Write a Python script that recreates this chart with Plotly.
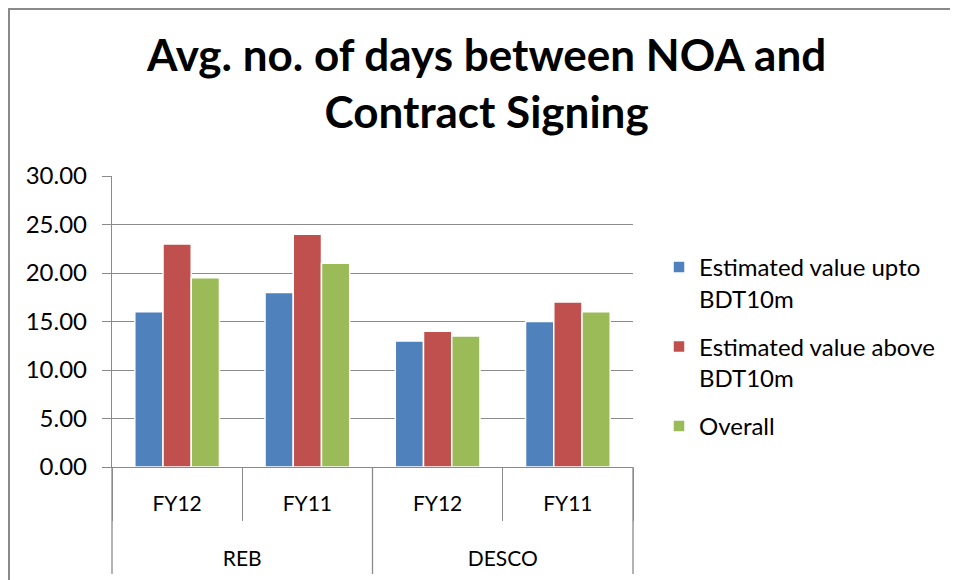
import plotly.graph_objects as go

companies = ["REB", "REB", "DESCO", "DESCO"]
years = ["FY12", "FY11", "FY12", "FY11"]
upto_10m = [16, 18, 13, 15]
above_10m = [23, 24, 14, 17]
overall = [19.5, 21, 13.5, 16]
series_names = ["Estimated value upto<br>BDT10m", "Estimated value above<br>BDT10m", "Overall"]
colors = ["#4F81BD", "#C0504D", "#9BBB59"]
y_ticks = [0, 5, 10, 15, 20, 25, 30]
title_text = "Avg. no. of days between NOA and<br>Contract Signing"

# the page body has an 8px margin, so the figure is laid out 8px in from the window
W, H = 950, 572
L, R, T, B = 104, 325, 168, 113
PW, PH = W - L - R, H - T - B


def px(fx):
    return (fx - L) / PW


def py(fy):
    return (H - B - fy) / PH


label_span = "<span style='font-size:21px'>{}</span>"
outer_labels = ["<br>" + label_span.format(c) for c in companies]
inner_labels = [label_span.format(y) for y in years]

fig = go.Figure()
for i, (name, vals, col) in enumerate(zip(series_names, [upto_10m, above_10m, overall], colors)):
    fig.add_trace(go.Bar(
        x=[outer_labels, inner_labels], y=vals, name=name, legendgroup=f"g{i}",
        marker=dict(color=col, line=dict(color="white", width=1.5)),
    ))

font_family = "Lato, 'Open Sans', sans-serif"
grey = "#8a8a8a"
fig.update_layout(
    width=W, height=H,
    paper_bgcolor="white", plot_bgcolor="white",
    margin=dict(l=L, r=R, t=T, b=B, autoexpand=False),
    barmode="group", bargap=0.35, bargroupgap=0.0,
    font=dict(family=font_family, size=21, color="black"),
    legend=dict(
        x=px(651), xanchor="left", y=py(245 - 8), yanchor="top",
        font=dict(size=24, family=font_family, color="black"),
        itemwidth=30, tracegroupgap=14, valign="top",
        bgcolor="rgba(0,0,0,0)",
    ),
    showlegend=True,
    annotations=[dict(
        text="<b>" + title_text + "</b>", xref="paper", yref="paper",
        x=px(486 - 8), y=py(82 - 8), xanchor="center", yanchor="middle",
        showarrow=False, font=dict(size=44, family=font_family, color="black"),
    )],
    shapes=[
        # chart frame (top and left)
        dict(type="line", xref="paper", yref="paper", x0=px(0), x1=px(W),
             y0=py(1), y1=py(1), line=dict(color=grey, width=2)),
        dict(type="line", xref="paper", yref="paper", x0=px(1), x1=px(1),
             y0=py(1), y1=py(H), line=dict(color=grey, width=2)),
        # outer category dividers
        dict(type="line", xref="paper", yref="paper", x0=0, x1=0,
             y0=0, y1=py(566), line=dict(color=grey, width=1.3)),
        dict(type="line", xref="paper", yref="paper", x0=0.5, x1=0.5,
             y0=0, y1=py(566), line=dict(color=grey, width=1.3)),
        dict(type="line", xref="paper", yref="paper", x0=1, x1=1,
             y0=0, y1=py(566), line=dict(color=grey, width=1.3)),
    ],
)
fig.update_yaxes(
    range=[0, 30], tickvals=y_ticks, tickformat=".2f",
    showgrid=True, gridcolor=grey, gridwidth=1.3,
    showline=True, linecolor=grey, linewidth=1.3,
    ticks="outside", ticklen=9, tickcolor=grey, tickwidth=1.3,
    tickfont=dict(size=24), zeroline=False, ticklabelstandoff=10,
    automargin=False,
)
fig.update_xaxes(
    showline=True, linecolor=grey, linewidth=1.3,
    ticks="outside", tickson="boundaries", ticklen=53, tickcolor=grey, tickwidth=1.3,
    showdividers=False, ticklabelstandoff=9,
    tickfont=dict(size=28.5), automargin=False,
)
fig.write_html("out.html")
